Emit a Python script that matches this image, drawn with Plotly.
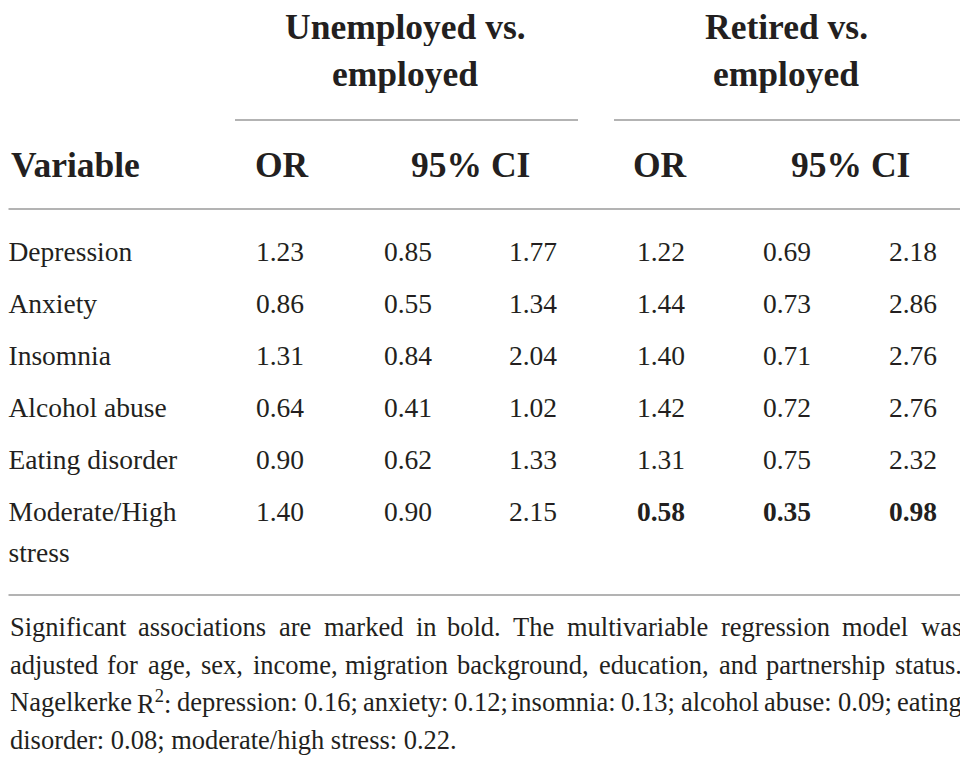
import plotly.graph_objects as go

# table content
variables = ["Depression", "Anxiety", "Insomnia", "Alcohol abuse", "Eating disorder", "Moderate/High<br>stress"]
unemp_or = ["1.23", "0.86", "1.31", "0.64", "0.90", "1.40"]
unemp_lo = ["0.85", "0.55", "0.84", "0.41", "0.62", "0.90"]
unemp_hi = ["1.77", "1.34", "2.04", "1.02", "1.33", "2.15"]
ret_or = ["1.22", "1.44", "1.40", "1.42", "1.31", "0.58"]
ret_lo = ["0.69", "0.73", "0.71", "0.72", "0.75", "0.35"]
ret_hi = ["2.18", "2.86", "2.76", "2.76", "2.32", "0.98"]
retired_bold = [False, False, False, False, False, True]

group_headers = ["Unemployed vs.<br>employed", "Retired vs.<br>employed"]
sub_headers = ["OR", "95% CI", "OR", "95% CI"]
footnote = [
    "Significant associations are marked in bold. The multivariable regression model was",
    "adjusted for age, sex, income, migration background, education, and partnership status.",
    "Nagelkerke R<sup>2</sup>: depression: 0.16; anxiety: 0.12; insomnia: 0.13; alcohol abuse: 0.09; eating",
    "disorder: 0.08; moderate/high stress: 0.22.",
]

FONT = "Liberation Serif"
INK = "#231f20"
RULE = "#9a9a9a"
BODY = 27.5
HEAD = 35.5
NOTE = 26.5

# Times/Liberation Serif advance widths (1/1000 em), used to justify the note
W = {" ": 250, ",": 250, ".": 250, ":": 278, ";": 278, "/": 278, "%": 833}
W.update({d: 500 for d in "0123456789"})
W.update(dict(zip("ABCDEFGHIJKLMNOPQRSTUVWXYZ",
                  [722, 667, 667, 722, 611, 556, 722, 722, 333, 389, 722, 611, 889,
                   722, 722, 556, 722, 667, 556, 611, 722, 722, 944, 722, 722, 611])))
W.update(dict(zip("abcdefghijklmnopqrstuvwxyz",
                  [444, 500, 444, 500, 444, 333, 500, 500, 278, 278, 500, 278, 778,
                   500, 500, 500, 500, 333, 389, 278, 500, 500, 722, 500, 500, 444])))


def word_width(w, size):
    if "<sup>" in w:
        base, rest = w.split("<sup>")
        sup, tail = rest.split("</sup>")
        return word_width(base, size) + word_width(sup, size) * 0.7 + word_width(tail, size)
    return sum(W.get(c, 500) for c in w) * size / 1000


# the page body has an 8px margin; shift the axes so coordinates match the window
OFF = 8
LEFT, RIGHT = 8.5, 963
row_y = [254 + 52 * i for i in range(len(variables))]
col_x = [280, 408, 533, 661, 787, 913]
WRAP = 41

fig = go.Figure()

first_lines = [v.split("<br>")[0] for v in variables]
fig.add_trace(go.Scatter(
    x=[LEFT] * len(variables), y=row_y, text=first_lines, mode="text",
    textposition="middle right", textfont=dict(family=FONT, size=BODY, color=INK),
    hoverinfo="skip", showlegend=False))
wrapped = [(y, v.split("<br>")[1]) for y, v in zip(row_y, variables) if "<br>" in v]
fig.add_trace(go.Scatter(
    x=[LEFT] * len(wrapped), y=[y + WRAP for y, _ in wrapped], text=[t for _, t in wrapped], mode="text",
    textposition="middle right", textfont=dict(family=FONT, size=BODY, color=INK),
    hoverinfo="skip", showlegend=False))


def bold(vals, flags):
    return [f"<b>{v}</b>" if f else v for v, f in zip(vals, flags)]


columns = [unemp_or, unemp_lo, unemp_hi,
           bold(ret_or, retired_bold), bold(ret_lo, retired_bold), bold(ret_hi, retired_bold)]
for cx, vals in zip(col_x, columns):
    fig.add_trace(go.Scatter(
        x=[cx] * len(vals), y=row_y, text=vals, mode="text",
        textposition="middle center", textfont=dict(family=FONT, size=BODY, color=INK),
        hoverinfo="skip", showlegend=False))

ann = []
for gx, txt in zip([405, 786], group_headers):
    for gy, part in zip([27, 74], txt.split("<br>")):
        ann.append(dict(x=gx, y=gy, text=f"<b>{part}</b>", showarrow=False, xref="x", yref="y",
                        height=38, borderpad=0, font=dict(family=FONT, size=HEAD, color=INK)))
ann.append(dict(x=LEFT, y=165, text="<b>Variable</b>", showarrow=False, xanchor="left", xref="x", yref="y",
                font=dict(family=FONT, size=HEAD, color=INK)))
for sx, txt in zip([282, 470, 660, 850], sub_headers):
    ann.append(dict(x=sx, y=165, text=f"<b>{txt}</b>", showarrow=False, xref="x", yref="y",
                    font=dict(family=FONT, size=HEAD, color=INK)))

# justified footnote: last line ragged; left half anchored left, right half anchored right
for i, line in enumerate(footnote):
    ly = 627 + 37.5 * i
    words = line.split(" ")
    if i == len(footnote) - 1:
        ann.append(dict(x=LEFT, y=ly, text=line, showarrow=False, xanchor="left", xref="x", yref="y",
                        borderpad=0, font=dict(family=FONT, size=NOTE, color=INK)))
        continue
    widths = [word_width(w, NOTE) for w in words]
    gap = (RIGHT - LEFT - sum(widths)) / (len(words) - 1)
    half = len(words) // 2
    xpos = LEFT
    for j, (w, ww) in enumerate(zip(words, widths)):
        right_side = j >= half
        ann.append(dict(x=xpos + ww if right_side else xpos, y=ly, text=w, showarrow=False,
                        xanchor="right" if right_side else "left", xref="x", yref="y",
                        borderpad=0, font=dict(family=FONT, size=NOTE, color=INK)))
        xpos += ww + gap

shapes = []
for x0, x1, yy in [(235, 578, 120), (614, 963, 120), (LEFT, 963, 209), (LEFT, 963, 595)]:
    shapes.append(dict(type="line", x0=x0, x1=x1, y0=yy, y1=yy, xref="x", yref="y",
                       line=dict(color=RULE, width=1.5)))

fig.update_layout(
    width=968, height=760,
    margin=dict(l=0, r=0, t=0, b=0),
    paper_bgcolor="white", plot_bgcolor="white",
    xaxis=dict(range=[OFF, 968 + OFF], visible=False, fixedrange=True),
    yaxis=dict(range=[760 + OFF, OFF], visible=False, fixedrange=True),
    annotations=ann, shapes=shapes,
)

fig.write_html("out.html")
